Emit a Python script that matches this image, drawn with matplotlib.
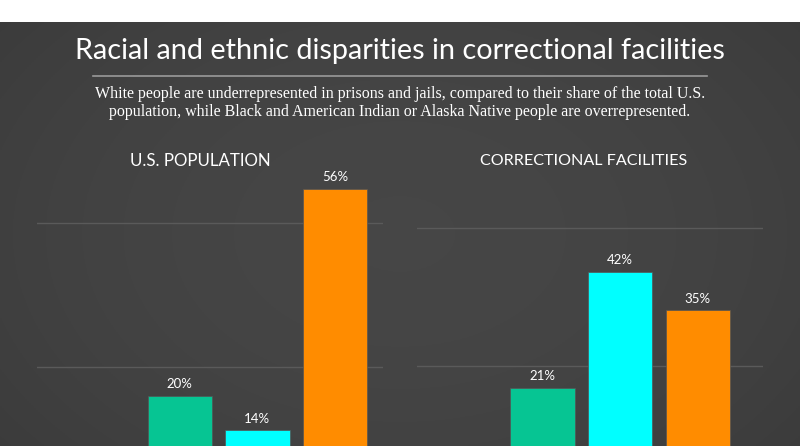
import numpy as np
import matplotlib
matplotlib.use('Agg')
import matplotlib.pyplot as plt

# data
title = 'Racial and ethnic disparities in correctional facilities'
subtitle = ('White people are underrepresented in prisons and jails, compared to their share of the total U.S.\n'
            'population, while Black and American Indian or Alaska Native people are overrepresented.')
panels = ['U.S. POPULATION', 'CORRECTIONAL FACILITIES']
groups = ['Hispanic', 'Black', 'White']
us_population = [20, 14, 56]
correctional = [21, 42, 35]
colors = ['#06c593', '#00ffff', '#ff8c00']

W, H = 800, 446
fig = plt.figure(figsize=(W / 100, H / 100), dpi=100)
fig.patch.set_facecolor('white')

def px(x0, y0, x1, y1):
    # pixel box (top-left origin) -> figure fraction rect
    return [x0 / W, 1 - y1 / H, (x1 - x0) / W, (y1 - y0) / H]

# dark background with soft vignette
bg = fig.add_axes(px(0, 22, W, H))
yy, xx = np.mgrid[0:1:200j, 0:1:360j]
r = np.sqrt(((xx - 0.5) / 0.7) ** 2 + ((yy - 0.5) / 0.9) ** 2)
shade = np.clip(0.275 - 0.05 * r ** 2, 0, 1)
bg.imshow(np.dstack([shade] * 3), aspect='auto', extent=[0, 1, 0, 1])
bg.set_axis_off()

fig.text(0.5, 1 - 51 / H, title, ha='center', va='center', color='white',
         fontsize=20.8, family='Lato')
fig.add_artist(plt.Line2D([93 / W, 707 / W], [1 - 76 / H] * 2, color='#9a9a9a', lw=1.2))
fig.text(0.5, 1 - 103 / H, subtitle, ha='center', va='center', color='white',
         fontsize=11.5, family='Liberation Serif', linespacing=1.12)

# per-panel layout: pixel box, xlim, ylim
layout = [
    dict(box=(37, 170, 383, H), xlim=(-1.84, 2.62), ylim=(11.3, 59.25), cx=200, fs=12.2),
    dict(box=(417, 170, 763, H), xlim=(-1.615, 2.84), ylim=(10.4, 60.5), cx=584, fs=11.6),
]

for name, vals, lay in zip(panels, [us_population, correctional], layout):
    ax = fig.add_axes(px(*lay['box']))
    ax.patch.set_alpha(0)
    x = np.arange(len(groups))
    bars = ax.bar(x, vals, width=0.83, color=colors, edgecolor='#555555', linewidth=0.5)
    for b, v in zip(bars, vals):
        ax.text(b.get_x() + b.get_width() / 2, v + 1.0, f'{v}%', ha='center', va='bottom',
                color='white', fontsize=9.5, family='Lato')
    ax.set_xlim(*lay['xlim'])
    ax.set_ylim(*lay['ylim'])
    ax.set_yticks([25, 50])
    ax.grid(axis='y', color='#5a5a5a', lw=1)
    ax.set_axisbelow(True)
    ax.tick_params(left=False, bottom=False, labelleft=False, labelbottom=False)
    for s in ax.spines.values():
        s.set_visible(False)
    fig.text(lay['cx'] / W, 1 - 161 / H, name, ha='center', va='center', color='white',
             fontsize=lay['fs'], family='Lato')

fig.savefig('out.png', dpi=100)
